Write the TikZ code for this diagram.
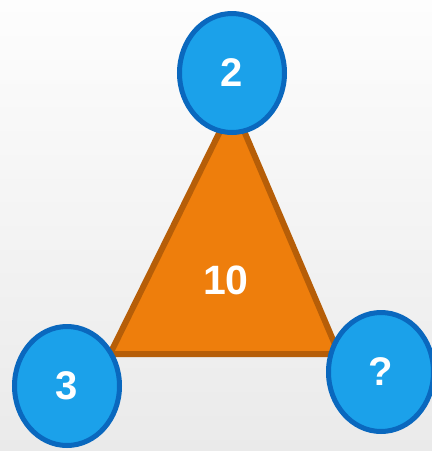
\documentclass[tikz,border=0pt]{standalone}
\usepackage{fontspec}
\setmainfont{Liberation Sans}
\usetikzlibrary{shapes.geometric}
\definecolor{bgtop}{HTML}{FDFDFD}
\definecolor{bgbot}{HTML}{EAEAEA}
\definecolor{trifill}{HTML}{EE7E0C}
\definecolor{triedge}{HTML}{B65E08}
\definecolor{cfill}{HTML}{1BA1EA}
\definecolor{cedge}{HTML}{0A68BE}
\tikzset{
  bubble/.style={ellipse, draw=cedge, line width=5pt, fill=cfill,
    minimum width=105pt, minimum height=119pt, inner sep=0pt,
    text=white, font=\fontsize{40}{40}\selectfont\bfseries},
  tri/.style={draw=triedge, fill=trifill, line width=6pt, line join=round},
  lbl/.style={text=white, font=\fontsize{41}{41}\selectfont\bfseries}
}
\begin{document}
\begin{tikzpicture}[x=1pt,y=-1pt]
\shade[top color=bgtop, bottom color=bgbot] (0,0) rectangle (432,451);
\useasboundingbox (0,0) rectangle (432,451);
\coordinate (A) at (233,105);
\coordinate (B) at (110,354);
\coordinate (C) at (339,354);
\draw[tri] (A) -- (B) -- (C) -- cycle;
\node[lbl] (ten) at (226,280) {10};
\node[bubble] (n2) at (232,73) {2};
\node[bubble] (n3) at (67,386) {3};
\node[bubble] (nq) at (381,372) {?};
\end{tikzpicture}
\end{document}
